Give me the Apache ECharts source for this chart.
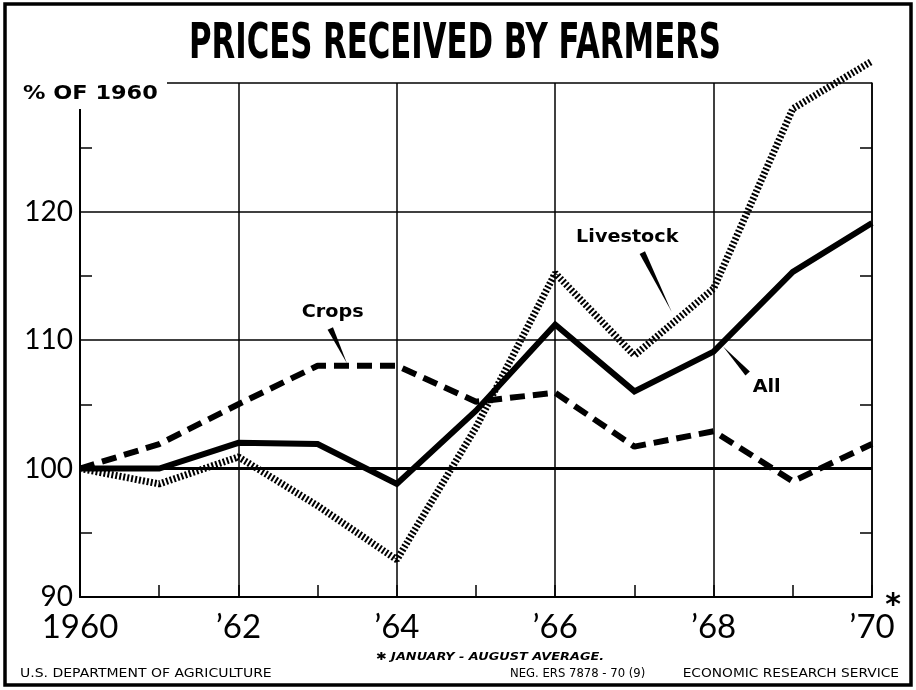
<!DOCTYPE html>
<html>
<head>
<meta charset="utf-8">
<script src="https://cdn.jsdelivr.net/npm/echarts@6/dist/echarts.min.js"></script>
<style>
html,body{margin:0;padding:0;background:#fff;}
#c{width:916px;height:690px;}
</style>
</head>
<body>
<div id="c"></div>
<script>
// ---- data ----
var years = ['1960','1961','1962','1963','1964','1965','1966','1967','1968','1969','1970'];
var yearLabels = ['1960','','\u201962','','\u201964','','\u201966','','\u201968','','\u201970'];
var allFarm   = [100, 100, 102.0, 101.9, 98.8, 104.5, 111.2, 106.0, 109.1, 115.3, 119.1];
var crops     = [100, 101.9, 105.0, 108.0, 108.0, 105.2, 105.9, 101.7, 102.9, 99.0, 101.9];
var livestock = [100, 98.8, 100.9, 97.1, 92.9, 103.2, 115.2, 108.8, 114.0, 128.0, 131.7];
var yTicks = [90, 100, 110, 120];

var FONT = 'Lato, "DejaVu Sans", sans-serif';
var BFONT = '"DejaVu Sans", sans-serif';
var chart = echarts.init(document.getElementById('c'));

var option = {
  backgroundColor: '#fff',
  animation: false,
  grid: {left: 80, right: 44, top: 83, bottom: 93, containLabel: false},
  xAxis: {
    type: 'category',
    data: years,
    boundaryGap: false,
    axisLine: {show: true, lineStyle: {color: '#000', width: 2}},
    axisTick: {show: true, inside: true, length: 12, interval: 0, lineStyle: {color: '#000', width: 1.5}},
    axisLabel: {
      interval: 0, margin: 14, color: '#000', fontSize: 33, fontFamily: FONT,
      formatter: function (v, i) { return yearLabels[i]; }
    },
    splitLine: {show: true, interval: function (i) { return i % 2 === 0; }, lineStyle: {color: '#000', width: 1.5}}
  },
  yAxis: [{
    type: 'value', min: 90, max: 130, interval: 10,
    axisLine: {show: true, lineStyle: {color: '#000', width: 2}},
    axisTick: {show: false, inside: true},
    minorTick: {show: true, splitNumber: 2, length: 12, lineStyle: {color: '#000', width: 1.5}},
    axisLabel: {
      color: '#000', fontSize: 28, fontFamily: FONT, margin: 7,
      formatter: function (v) { return yTicks.indexOf(v) >= 0 ? String(v) : ''; }
    },
    splitLine: {show: true, lineStyle: {color: '#000', width: 1.5}}
  }, {
    type: 'value', min: 90, max: 130, interval: 10, position: 'right',
    axisLine: {show: true, lineStyle: {color: '#000', width: 1.5}},
    axisTick: {show: false, inside: true},
    minorTick: {show: true, splitNumber: 2, length: 12, lineStyle: {color: '#000', width: 1.5}},
    axisLabel: {show: false},
    splitLine: {show: false}
  }],
  series: [
    {
      name: 'All', type: 'line', data: allFarm, symbol: 'none', clip: false, z: 5,
      lineStyle: {color: '#000', width: 6, type: 'solid', join: 'miter'},
      markLine: {
        silent: true, symbol: 'none', label: {show: false},
        lineStyle: {color: '#000', width: 3, type: 'solid'},
        data: [{yAxis: 100}]
      }
    },
    {
      name: 'Crops', type: 'line', data: crops, symbol: 'none', clip: false, z: 4,
      lineStyle: {color: '#000', width: 6, type: [15, 8]}
    },
    {
      name: 'Livestock', type: 'line', data: livestock, symbol: 'none', clip: false, z: 4,
      lineStyle: {color: '#000', width: 7, type: [2, 2]}
    }
  ]
};
chart.setOption(option);

// x in year-index units (0 = 1960), fractional allowed
function px(x, y) {
  var a = chart.convertToPixel({xAxisIndex: 0, yAxisIndex: 0}, [0, y]);
  var b = chart.convertToPixel({xAxisIndex: 0, yAxisIndex: 0}, [10, y]);
  return [a[0] + (b[0] - a[0]) * x / 10, a[1]];
}
function wedge(a, b, w) {
  var p = px(a[0], a[1]), q = px(b[0], b[1]);
  var dx = q[0] - p[0], dy = q[1] - p[1], L = Math.sqrt(dx * dx + dy * dy);
  var nx = -dy / L * w / 2, ny = dx / L * w / 2;
  return {
    type: 'polygon', z: 50,
    shape: {points: [[p[0] + nx, p[1] + ny], [p[0] - nx, p[1] - ny], [q[0], q[1]]]},
    style: {fill: '#000'}
  };
}
function lbl(x, y, t, size) {
  var p = px(x, y);
  return {
    type: 'text', z: 50, x: p[0], y: p[1], scaleX: 1.13,
    style: {text: t, fill: '#000', font: 'bold ' + size + 'px ' + BFONT, align: 'center', verticalAlign: 'middle'}
  };
}
function txt(x, y, t, font, align, sx) {
  return {type: 'text', z: 50, x: x, y: y, scaleX: sx || 1,
    style: {text: t, fill: '#000', font: font, align: align, verticalAlign: 'middle'}};
}

var g = [
  // outer frame
  {type: 'rect', z: 60, shape: {x: 5, y: 4, width: 906, height: 681}, style: {fill: 'none', stroke: '#000', lineWidth: 3.5}},
  // title
  txt(455, 45, 'PRICES RECEIVED BY FARMERS', 'bold 50px ' + BFONT, 'center', 0.615),
  // y unit label with white knockout over the corner
  {type: 'rect', z: 40, shape: {x: 18, y: 76, width: 149, height: 33}, style: {fill: '#fff'}},
  txt(23, 94, '% OF 1960', 'bold 20px ' + BFONT, 'left', 1.12),
  // asterisk after '70
  txt(893, 606, '*', 'bold 30px ' + BFONT, 'center', 1),
  // footnote and credits
  txt(490, 657, '\u2731 JANUARY - AUGUST AVERAGE.', 'italic bold 11px ' + BFONT, 'center', 1.17),
  txt(20, 674, 'U.S. DEPARTMENT OF AGRICULTURE', '12.5px ' + BFONT, 'left', 1.12),
  txt(510, 674, 'NEG. ERS 7878 - 70 (9)', '12px ' + BFONT, 'left', 0.97),
  txt(899, 674, 'ECONOMIC RESEARCH SERVICE', '12.5px ' + BFONT, 'right', 1.1),
  // series annotations
  lbl(3.19, 112.1, 'Crops', 17),
  wedge([3.16, 110.9], [3.37, 108.2], 6),
  lbl(6.91, 118.0, 'Livestock', 17),
  wedge([7.10, 116.8], [7.47, 112.2], 6),
  lbl(8.67, 106.3, 'All', 17),
  wedge([8.43, 107.4], [8.12, 109.5], 6)
];
chart.setOption({graphic: {elements: g}});
</script>
</body>
</html>
